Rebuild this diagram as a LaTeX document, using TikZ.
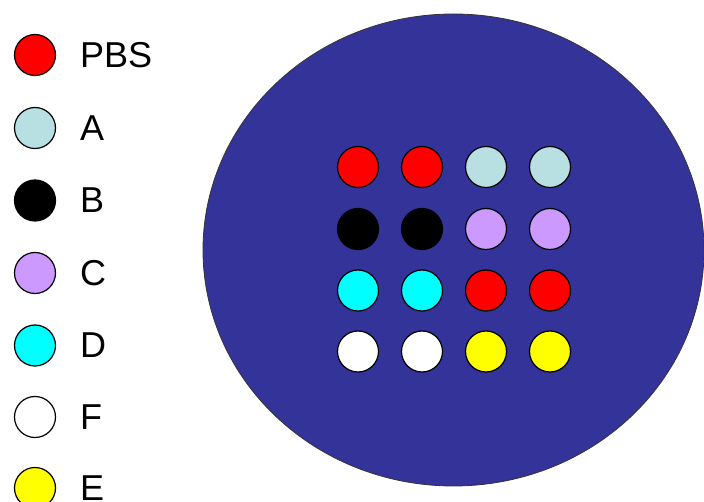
\documentclass[tikz,border=0pt]{standalone}
\usepackage{fontspec}
\setmainfont{Liberation Sans}
\definecolor{plate}{HTML}{333399}
\definecolor{pbs}{HTML}{FF0000}
\definecolor{ca}{HTML}{B8E0E2}
\definecolor{cb}{HTML}{000000}
\definecolor{cc}{HTML}{CC99FF}
\definecolor{cd}{HTML}{00FFFF}
\definecolor{cf}{HTML}{FFFFFF}
\definecolor{ce}{HTML}{FFFF00}
\begin{document}
\begin{tikzpicture}[x=1pt,y=-1pt,
  dot/.style={circle,draw=black,line width=1.2pt,minimum size=41pt,inner sep=0pt},
  lab/.style={anchor=west,inner sep=0pt,font=\fontsize{36}{36}\selectfont}]
\useasboundingbox (0,0) rectangle (704,502);
\path[fill=plate,draw=black!80,line width=0.8pt] (453.5,250) ellipse [x radius=250.5,y radius=236];
% legend
\foreach \c/\t/\y/\n in {pbs/PBS/55/l1,ca/A/128/l2,cb/B/200.5/l3,cc/C/273/l4,cd/D/345.5/l5,cf/F/417/l6,ce/E/488/l7}{
  \node[dot,fill=\c] (\n) at (35,\y) {};
  \node[lab] (\n t) at (80,\y) {\t};
}
% grid
\foreach \c/\x/\y/\n in {pbs/358/167/g11,pbs/422/167/g12,ca/486/167/g13,ca/550/167/g14,
  cb/358/229/g21,cb/422/229/g22,cc/486/229/g23,cc/550/229/g24,
  cd/358/290.5/g31,cd/422/290.5/g32,pbs/486/290.5/g33,pbs/550/290.5/g34,
  cf/358/351.5/g41,cf/422/351.5/g42,ce/486/351.5/g43,ce/550/351.5/g44}{
  \node[dot,fill=\c] (\n) at (\x,\y) {};
}
\end{tikzpicture}
\end{document}
